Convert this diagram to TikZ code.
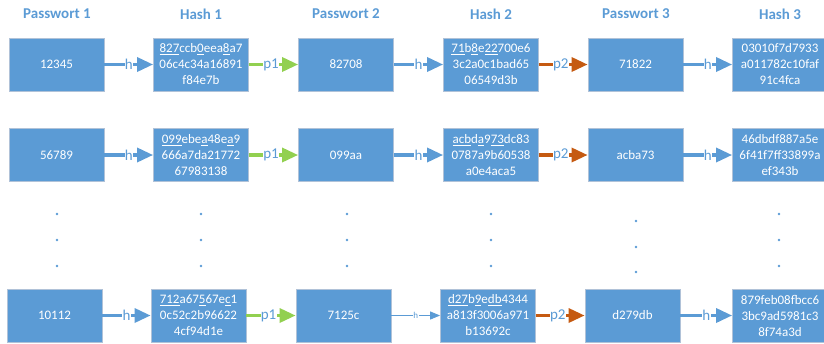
\documentclass[tikz,border=0pt]{standalone}
\usepackage{fontspec}
\setmainfont{Carlito}
\usetikzlibrary{arrows.meta}
\definecolor{boxblue}{HTML}{5B9BD5}
\definecolor{boxedge}{HTML}{B0C2D8}
\definecolor{pgreen}{HTML}{92D050}
\definecolor{porange}{HTML}{C55A11}
\begin{document}
\begin{tikzpicture}[x=1pt,y=-1pt,
  box/.style={draw=boxedge, line width=0.8pt, fill=boxblue, minimum width=95pt, minimum height=53pt, inner sep=0pt, text=white, font=\fontsize{13}{16}\selectfont, align=center},
  head/.style={text=boxblue, font=\fontsize{15}{18}\selectfont\bfseries},
  lab/.style={fill=white, inner sep=0.3pt, text=boxblue, font=\fontsize{15}{16}\selectfont},
  plab/.style={lab, pos=0.45},
  smalllab/.style={fill=white, inner sep=0.4pt, text=boxblue, font=\fontsize{9}{10}\selectfont},
  harrow/.style={draw=boxblue, line width=3.3pt, -{Triangle[length=16pt,width=14pt]}},
  thinarrow/.style={draw=boxblue, line width=1pt, -{Triangle[length=10pt,width=8pt]}},
  garrow/.style={draw=pgreen, line width=3.3pt, -{Triangle[length=16pt,width=14pt]}},
  oarrow/.style={draw=porange, line width=3.3pt, -{Triangle[length=16pt,width=14pt]}},
  vdot/.style={circle, fill=boxblue, inner sep=0pt, minimum size=2.8pt}
]
\useasboundingbox (0,0) rectangle (824,343);

% headers
\node[head] (t1) at (57,14) {Passwort 1};
\node[head] (t2) at (201,14) {Hash 1};
\node[head] (t3) at (346,14) {Passwort 2};
\node[head] (t4) at (491,14) {Hash 2};
\node[head] (t5) at (636,14) {Passwort 3};
\node[head] (t6) at (780,14) {Hash 3};

% row 1
\node[box] (a1) at (56.5,64.5) {12345};
\node[box] (a2) at (201,64.5) {\underline{827}ccb\underline{0}eea\underline{8}a7\\06c4c34a16891\\f84e7b};
\node[box] (a3) at (346,64.5) {82708};
\node[box] (a4) at (491,64.5) {\underline{71}b\underline{8}e\underline{22}700e6\\3c2a0c1bad65\\06549d3b};
\node[box] (a5) at (635.5,64.5) {71822};
\node[box] (a6) at (780,64.5) {03010f7d7933\\a011782c10faf\\91c4fca};
\draw[harrow] (a1.east) -- node[lab]{h} (a2.west);
\draw[garrow] (a2.east) -- node[plab]{p1} (a3.west);
\draw[harrow] (a3.east) -- node[lab]{h} (a4.west);
\draw[oarrow] (a4.east) -- node[plab]{p2} (a5.west);
\draw[harrow] (a5.east) -- node[lab]{h} (a6.west);

% row 2
\node[box] (b1) at (56.5,155) {56789};
\node[box] (b2) at (201,155) {\underline{099}ebe\underline{a}48e\underline{a}9\\666a7da21772\\67983138};
\node[box] (b3) at (346,155) {099aa};
\node[box] (b4) at (491,155) {\underline{acb}d\underline{a}9\underline{73}dc83\\0787a9b60538\\a0e4aca5};
\node[box] (b5) at (635.5,155) {acba73};
\node[box] (b6) at (780,155) {46dbdf887a5e\\6f41f7ff33899a\\ef343b};
\draw[harrow] (b1.east) -- node[lab]{h} (b2.west);
\draw[garrow] (b2.east) -- node[plab]{p1} (b3.west);
\draw[harrow] (b3.east) -- node[lab]{h} (b4.west);
\draw[oarrow] (b4.east) -- node[plab]{p2} (b5.west);
\draw[harrow] (b5.east) -- node[lab]{h} (b6.west);

% dots
\foreach \x/\n in {57/1,201/2,347/3,491/4,779/6}{
  \node[vdot] (d\n a) at (\x,214) {};
  \node[vdot] (d\n b) at (\x,240) {};
  \node[vdot] (d\n c) at (\x,266) {};
}
\node[vdot] (d5a) at (636,221) {};
\node[vdot] (d5b) at (636,247) {};
\node[vdot] (d5c) at (636,272) {};

% row 3
\node[box] (c1) at (54.5,315.5) {10112};
\node[box] (c2) at (198.5,315.5) {\underline{712}a67\underline{5}67e\underline{c}1\\0c52c2b96622\\4cf94d1e};
\node[box] (c3) at (343.5,315.5) {7125c};
\node[box] (c4) at (488,315.5) {\underline{d27}b\underline{9}e\underline{db}4344\\a813f3006a971\\b13692c};
\node[box] (c5) at (632.5,315.5) {d279db};
\node[box] (c6) at (780,315.5) {879feb08fbcc6\\3bc9ad5981c3\\8f74a3d};
\draw[harrow] (c1.east) -- node[lab]{h} (c2.west);
\draw[garrow] (c2.east) -- node[plab]{p1} (c3.west);
\draw[thinarrow] (c3.east) -- node[smalllab]{h} (c4.west);
\draw[oarrow] (c4.east) -- node[plab]{p2} (c5.west);
\draw[harrow] (c5.east) -- node[lab]{h} (c6.west);
\end{tikzpicture}
\end{document}
